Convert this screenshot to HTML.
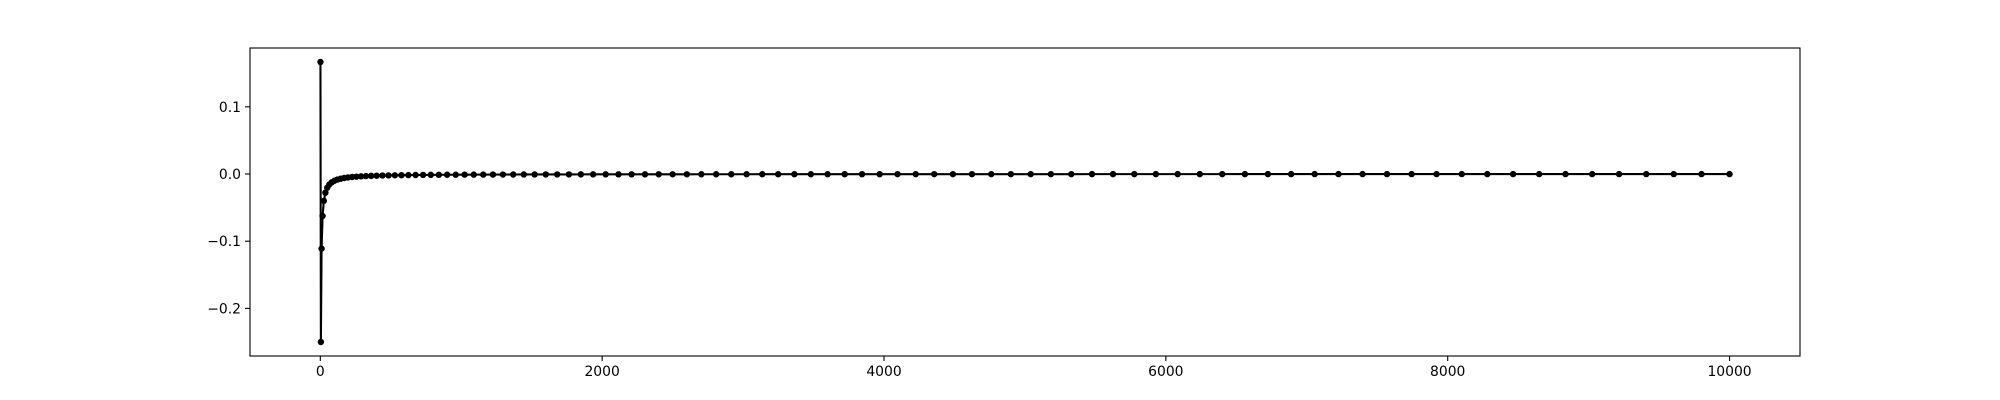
<!DOCTYPE html>
<html><head><meta charset="utf-8"><style>
html,body{margin:0;padding:0;background:#fff;}
svg{display:block;font-family:"DejaVu Sans","Liberation Sans",sans-serif;}
</style></head><body>
<svg id="chart" width="2000" height="400" viewBox="0 0 2000 400">
<rect width="2000" height="400" fill="#fff"/>
<g id="ticks"></g>
<g id="series"></g>
<rect x="250" y="48" width="1550" height="308" fill="none" stroke="#000" stroke-width="1.1"/>
</svg>
<script>
const xValues=[1,4,9,16,25,36,49,64,81,100,121,144,169,196,225,256,289,324,361,400,441,484,529,576,625,676,729,784,841,900,961,1024,1089,1156,1225,1296,1369,1444,1521,1600,1681,1764,1849,1936,2025,2116,2209,2304,2401,2500,2601,2704,2809,2916,3025,3136,3249,3364,3481,3600,3721,3844,3969,4096,4225,4356,4489,4624,4761,4900,5041,5184,5329,5476,5625,5776,5929,6084,6241,6400,6561,6724,6889,7056,7225,7396,7569,7744,7921,8100,8281,8464,8649,8836,9025,9216,9409,9604,9801,10000];
const yValues=[0.1667,-0.25,-0.1111,-0.0625,-0.04,-0.02778,-0.02041,-0.01563,-0.01235,-0.01,-0.00826,-0.00694,-0.00592,-0.0051,-0.00444,-0.00391,-0.00346,-0.00309,-0.00277,-0.0025,-0.00227,-0.00207,-0.00189,-0.00174,-0.0016,-0.00148,-0.00137,-0.00128,-0.00119,-0.00111,-0.00104,-0.00098,-0.00092,-0.00087,-0.00082,-0.00077,-0.00073,-0.00069,-0.00066,-0.00063,-0.0006,-0.00057,-0.00054,-0.00052,-0.00049,-0.00047,-0.00045,-0.00043,-0.00042,-0.0004,-0.00038,-0.00037,-0.00036,-0.00034,-0.00033,-0.00032,-0.00031,-0.0003,-0.00029,-0.00028,-0.00027,-0.00026,-0.00025,-0.00024,-0.00024,-0.00023,-0.00022,-0.00022,-0.00021,-0.0002,-0.0002,-0.00019,-0.00019,-0.00018,-0.00018,-0.00017,-0.00017,-0.00016,-0.00016,-0.00016,-0.00015,-0.00015,-0.00015,-0.00014,-0.00014,-0.00014,-0.00013,-0.00013,-0.00013,-0.00012,-0.00012,-0.00012,-0.00012,-0.00011,-0.00011,-0.00011,-0.00011,-0.0001,-0.0001,-0.0001];
const xTicks=[0,2000,4000,6000,8000,10000];
const xTickLabels=["0","2000","4000","6000","8000","10000"];
const yTicks=[-0.2,-0.1,0.0,0.1];
const yTickLabels=["\u22120.2","\u22120.1","0.0","0.1"];

const NS="http://www.w3.org/2000/svg";
const L=250,R=1800,T=48,B=356;
const xmin0=Math.min(...xValues),xmax0=Math.max(...xValues);
const ymin0=Math.min(...yValues),ymax0=Math.max(...yValues);
const xm=(xmax0-xmin0)*0.05,ym=(ymax0-ymin0)*0.05;
const xmin=xmin0-xm,xmax=xmax0+xm,ymin=ymin0-ym,ymax=ymax0+ym;
const sx=v=>L+(v-xmin)/(xmax-xmin)*(R-L);
const sy=v=>B-(v-ymin)/(ymax-ymin)*(B-T);
function mk(tag,attrs,parent){const e=document.createElementNS(NS,tag);for(const k in attrs)e.setAttribute(k,attrs[k]);parent.appendChild(e);return e;}
const tg=document.getElementById('ticks');
xTicks.forEach((t,i)=>{
  const x=sx(t);
  const ln=mk('line',{x1:x,x2:x,y1:B,y2:B+5,stroke:'#000','stroke-width':1.1},tg);
  
  
  const tx=mk('text',{x:x,y:B+20,'text-anchor':'middle','font-size':'13.9'},tg);
  tx.textContent=xTickLabels[i];
  
  
});
yTicks.forEach((t,i)=>{
  const y=sy(t);
  const ln=mk('line',{x1:L-5,x2:L,y1:y,y2:y,stroke:'#000','stroke-width':1.1},tg);
  
  
  const tx=mk('text',{x:L-9,y:y+5,'text-anchor':'end','font-size':'13.9'},tg);
  tx.textContent=yTickLabels[i];
  
  
});
const sg=document.getElementById('series');
const pts=xValues.map((v,i)=>sx(v).toFixed(2)+','+sy(yValues[i]).toFixed(2)).join(' ');
const pl=mk('polyline',{points:pts,fill:'none',stroke:'#000','stroke-width':2.1,'stroke-linejoin':'round'},sg);


xValues.forEach((v,i)=>{
  const c=mk('circle',{cx:sx(v),cy:sy(yValues[i]),r:3.2,fill:'#000'},sg);
  
  
});
</script>
</body></html>
